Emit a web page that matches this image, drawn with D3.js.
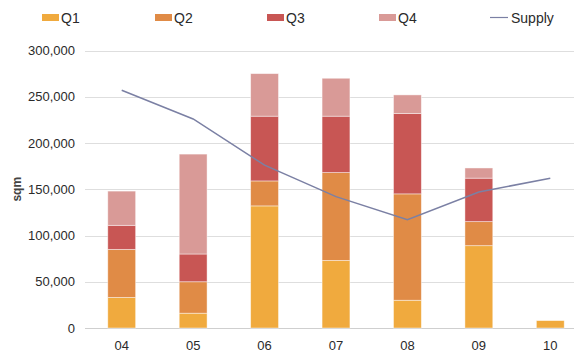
<!DOCTYPE html>
<html>
<head>
<meta charset="utf-8">
<script src="https://cdn.jsdelivr.net/npm/d3@7"></script>
<style>
  html, body { margin: 0; padding: 0; background: #fff; }
  svg { display: block; font-family: "Liberation Sans", Arial, sans-serif; }
</style>
</head>
<body>
<svg id="chart" width="574" height="354"></svg>
<script>
// Years (two-digit labels) on the category axis
const years = ["04", "05", "06", "07", "08", "09", "10"];
// Quarterly take-up, sqm
const q1 = [33000, 16000, 132000, 73000, 30000, 89000, 8000];
const q2 = [52000, 34000, 27000, 95000, 115000, 26000, 0];
const q3 = [26000, 30000, 70000, 61000, 87000, 47000, 0];
const q4 = [37000, 108000, 46000, 41000, 20000, 11000, 0];
// Supply line, sqm
const supply = [257000, 226000, 176000, 142000, 117000, 147000, 162000];
const yTicks = [0, 50000, 100000, 150000, 200000, 250000, 300000];

const seriesKeys = ["Q1", "Q2", "Q3", "Q4"];
const colors = { Q1: "#F0AA3E", Q2: "#E08B46", Q3: "#C85654", Q4: "#D99A97" };
const lineColor = "#7B80A4";
const textColor = "#2a2a2a";

const svg = d3.select("#chart");
const margin = { left: 86, right: -12, top: 50.5, bottom: 26 };
const W = 574, H = 354;

const x = d3.scaleBand()
  .domain(years)
  .range([margin.left, W - margin.right])
  .paddingInner(0.61)
  .paddingOuter(0.305);

const y = d3.scaleLinear()
  .domain([0, 300000])
  .range([H - margin.bottom, margin.top]);

// Gridlines
svg.append("g")
  .selectAll("line")
  .data(yTicks)
  .join("line")
  .attr("x1", 85).attr("x2", W)
  .attr("y1", d => Math.round(y(d)) + 0.5)
  .attr("y2", d => Math.round(y(d)) + 0.5)
  .attr("stroke", d => d === 0 ? "#cfcfcf" : "#dedede")
  .attr("stroke-width", 1);

// Y axis labels
const yAxis = d3.axisLeft(y)
  .tickValues(yTicks)
  .tickFormat(d3.format(","))
  .tickSize(0)
  .tickPadding(0);
const gy = svg.append("g")
  .attr("transform", "translate(75,0)")
  .call(yAxis);
gy.select(".domain").remove();
gy.selectAll("text")
  .attr("font-size", 13)
  .attr("fill", textColor)
  .attr("font-family", "Liberation Sans, Arial, sans-serif");

// Y axis title
svg.append("text")
  .attr("transform", `translate(21,${(y(150000))}) rotate(-90)`)
  .attr("text-anchor", "middle")
  .attr("font-size", 12)
  .attr("font-weight", "bold")
  .attr("fill", "#444")
  .text("sqm");

// X axis labels
const xAxis = d3.axisBottom(x).tickSize(0).tickPadding(0);
const gx = svg.append("g")
  .attr("transform", `translate(0,${H - margin.bottom + 13})`)
  .call(xAxis);
gx.select(".domain").remove();
gx.selectAll("text")
  .attr("font-size", 13)
  .attr("fill", textColor)
  .attr("font-family", "Liberation Sans, Arial, sans-serif");

// Stacked bars
const rows = years.map((yr, i) => ({ year: yr, Q1: q1[i], Q2: q2[i], Q3: q3[i], Q4: q4[i] }));
const stacked = d3.stack().keys(seriesKeys)(rows);

svg.append("g")
  .selectAll("g")
  .data(stacked)
  .join("g")
  .attr("fill", s => colors[s.key])
  .selectAll("rect")
  .data(s => s.filter(d => d[1] - d[0] > 0))
  .join("rect")
  .attr("x", d => x(d.data.year))
  .attr("width", x.bandwidth())
  .attr("y", d => y(d[1]))
  .attr("height", d => y(d[0]) - y(d[1]))
  .attr("stroke", "rgba(255,255,255,0.55)")
  .attr("stroke-width", 0.8);

// Supply line
const line = d3.line()
  .x((d, i) => x(years[i]) + x.bandwidth() / 2)
  .y(d => y(d));
svg.append("path")
  .datum(supply)
  .attr("d", line)
  .attr("fill", "none")
  .attr("stroke", lineColor)
  .attr("stroke-width", 1.5);

// Legend
const legendItems = [
  { key: "Q1", x: 42, type: "rect" },
  { key: "Q2", x: 155, type: "rect" },
  { key: "Q3", x: 267, type: "rect" },
  { key: "Q4", x: 379, type: "rect" },
  { key: "Supply", x: 490, type: "line" }
];
const lg = svg.append("g");
legendItems.forEach(it => {
  const g = lg.append("g").attr("transform", `translate(${it.x},0)`);
  if (it.type === "rect") {
    g.append("rect").attr("x", 0).attr("y", 14).attr("width", 17).attr("height", 7)
      .attr("fill", colors[it.key]);
  } else {
    g.append("line").attr("x1", 0).attr("x2", 18).attr("y1", 17.5).attr("y2", 17.5)
      .attr("stroke", lineColor).attr("stroke-width", 1.2);
  }
  g.append("text")
    .attr("x", it.type === "rect" ? 19 : 21)
    .attr("y", 22.5)
    .attr("font-size", 14)
    .attr("fill", textColor)
    .text(it.key);
});
</script>
</body>
</html>
